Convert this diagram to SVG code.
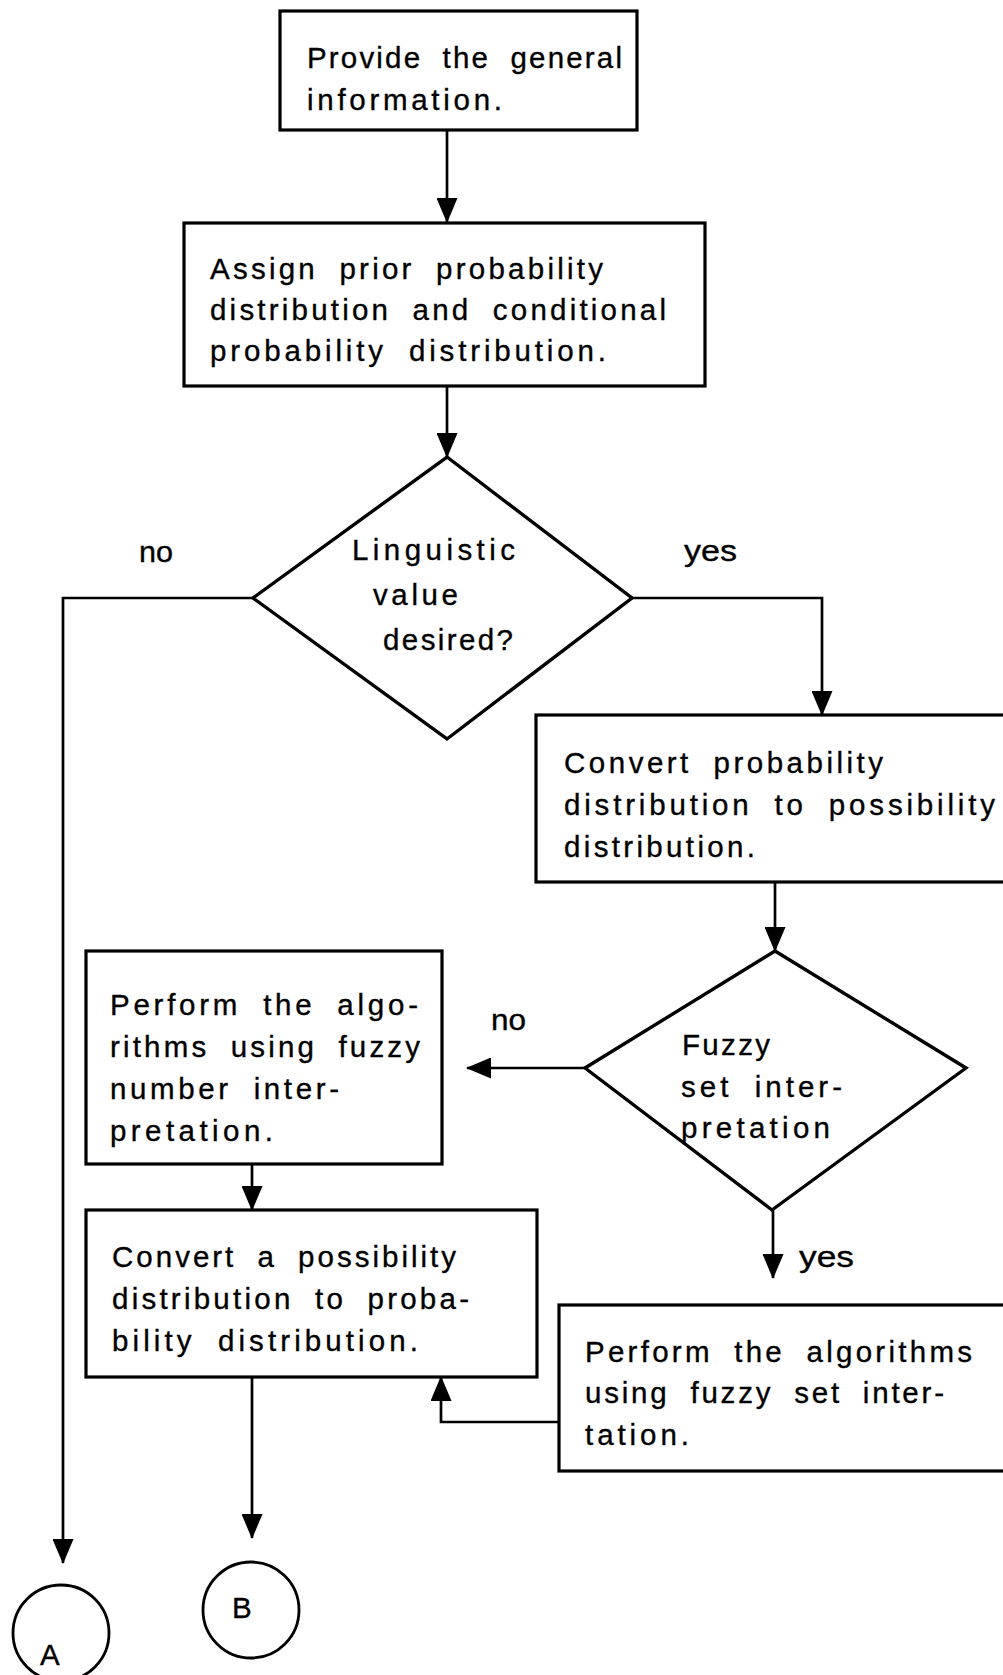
<svg xmlns="http://www.w3.org/2000/svg" width="1003" height="1675" viewBox="0 0 1003 1675">
  <style>
    .box { fill: #ffffff; stroke: #000000; stroke-width: 3.2; }
    .dec { fill: #ffffff; stroke: #000000; stroke-width: 3.4; stroke-linejoin: miter; }
    .term { fill: #ffffff; stroke: #000000; stroke-width: 2.8; }
    .wire { fill: none; stroke: #000000; stroke-width: 2.7; }
    text { font-family: "Liberation Sans", Arial, Helvetica, sans-serif; font-size: 29.5px; fill: #000000; stroke: #000000; stroke-width: 0.35px; word-spacing: 10px; }
  </style>
  <defs>
    <marker id="head" viewBox="0 0 25 21" refX="24" refY="10.5" markerWidth="25" markerHeight="21" markerUnits="userSpaceOnUse" orient="auto">
      <path d="M0,0 L25,10.5 L0,21 Z" fill="#000000"/>
    </marker>
  </defs>

  <rect width="1003" height="1675" fill="#ffffff"/>

  <!-- connectors -->
  <g id="connectors" class="wire" marker-end="url(#head)">
    <path d="M447,131 V222"/>
    <path d="M447,386 V457"/>
    <path d="M253,598 H63 V1563"/>
    <path d="M632,598 H822 V715"/>
    <path d="M775,882 V951"/>
    <path d="M585,1068 H467"/>
    <path d="M773,1210 V1278"/>
    <path d="M252,1164 V1210"/>
    <path d="M559,1422 H441 V1377"/>
    <path d="M252,1377 V1538"/>
  </g>

  <!-- branch labels -->
  <g id="labels">
    <text x="139" y="562" textLength="34" lengthAdjust="spacingAndGlyphs">no</text>
    <text x="684" y="561" textLength="53" lengthAdjust="spacingAndGlyphs">yes</text>
    <text x="491" y="1030" textLength="35" lengthAdjust="spacingAndGlyphs">no</text>
    <text x="799" y="1267" textLength="55" lengthAdjust="spacingAndGlyphs">yes</text>
  </g>

  <g id="n1">
    <rect class="box" x="280" y="11" width="357" height="119"/>
    <text x="307" y="68" textLength="315" lengthAdjust="spacing">Provide the general</text>
    <text x="307" y="110" textLength="195" lengthAdjust="spacing">information.</text>
  </g>

  <g id="n2">
    <rect class="box" x="184" y="223" width="521" height="163"/>
    <text x="210" y="279" textLength="393" lengthAdjust="spacing">Assign prior probability</text>
    <text x="210" y="320" textLength="456" lengthAdjust="spacing">distribution and conditional</text>
    <text x="210" y="361" textLength="396" lengthAdjust="spacing">probability distribution.</text>
  </g>

  <g id="n3">
    <polygon class="dec" points="447,457 632,598 447,739 253,598"/>
    <text x="352" y="560" textLength="163" lengthAdjust="spacing">Linguistic</text>
    <text x="373" y="605" textLength="85" lengthAdjust="spacing">value</text>
    <text x="383" y="650" textLength="130" lengthAdjust="spacing">desired?</text>
  </g>

  <g id="n4">
    <rect class="box" x="536" y="715" width="480" height="167"/>
    <text x="564" y="773" textLength="319" lengthAdjust="spacing">Convert probability</text>
    <text x="564" y="815" textLength="431" lengthAdjust="spacing">distribution to possibility</text>
    <text x="564" y="857" textLength="191" lengthAdjust="spacing">distribution.</text>
  </g>

  <g id="n5">
    <polygon class="dec" points="775,951 966,1068 772,1210 585,1068"/>
    <text x="682" y="1055" textLength="88" lengthAdjust="spacing">Fuzzy</text>
    <text x="681" y="1097" textLength="161" lengthAdjust="spacing">set inter-</text>
    <text x="681" y="1138" textLength="149" lengthAdjust="spacing">pretation</text>
  </g>

  <g id="n6">
    <rect class="box" x="86" y="951" width="356" height="213"/>
    <text x="110" y="1015" textLength="308" lengthAdjust="spacing">Perform the algo-</text>
    <text x="110" y="1057" textLength="310" lengthAdjust="spacing">rithms using fuzzy</text>
    <text x="110" y="1099" textLength="229" lengthAdjust="spacing">number inter-</text>
    <text x="110" y="1141" textLength="163" lengthAdjust="spacing">pretation.</text>
  </g>

  <g id="n7">
    <rect class="box" x="86" y="1210" width="451" height="167"/>
    <text x="112" y="1267" textLength="344" lengthAdjust="spacing">Convert a possibility</text>
    <text x="112" y="1309" textLength="357" lengthAdjust="spacing">distribution to proba-</text>
    <text x="112" y="1351" textLength="306" lengthAdjust="spacing">bility distribution.</text>
  </g>

  <g id="n8">
    <rect class="box" x="559" y="1305" width="460" height="166"/>
    <text x="585" y="1362" textLength="387" lengthAdjust="spacing">Perform the algorithms</text>
    <text x="585" y="1403" textLength="359" lengthAdjust="spacing">using fuzzy set inter-</text>
    <text x="585" y="1445" textLength="104" lengthAdjust="spacing">tation.</text>
  </g>

  <g id="A">
    <circle class="term" cx="61" cy="1633" r="48"/>
    <text x="40" y="1665">A</text>
  </g>

  <g id="B">
    <circle class="term" cx="251" cy="1610" r="48"/>
    <text x="232" y="1618">B</text>
  </g>
</svg>
